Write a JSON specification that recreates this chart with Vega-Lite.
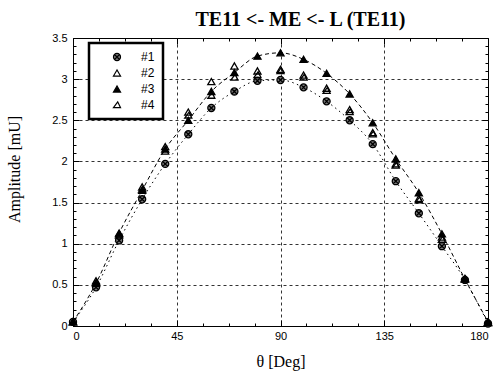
{
  "$schema": "https://vega.github.io/schema/vega-lite/v6.json",
  "autosize": {"type": "none"},
  "width": 415,
  "height": 288,
  "padding": {"left": 73, "top": 38, "right": 8, "bottom": 52},
  "background": "white",
  "title": {"text": "TE11 <- ME <- L (TE11)", "font": "Liberation Serif", "fontSize": 20, "fontWeight": "bold", "color": "black", "dx": 20, "offset": 2},
  "config": {
    "view": {"stroke": "black", "strokeWidth": 1},
    "legend": {
      "orient": "none", "legendX": 16, "legendY": 5, "title": null,
      "padding": 8, "rowPadding": 4, "strokeColor": "black", "strokeWidth": 2.5, "fillColor": "white",
      "labelFont": "Liberation Sans", "labelFontSize": 12, "labelColor": "black",
      "symbolSize": 50, "symbolStrokeColor": "black", "symbolStrokeWidth": 1.2, "symbolOffset": 14, "labelOffset": 18
    }
  },
  "data": {"values": [
    {"theta": 0, "amp": 0.05, "series": "#1"}, {"theta": 10, "amp": 0.47, "series": "#1"}, {"theta": 20, "amp": 1.04, "series": "#1"}, {"theta": 30, "amp": 1.54, "series": "#1"}, {"theta": 40, "amp": 1.97, "series": "#1"}, {"theta": 50, "amp": 2.33, "series": "#1"}, {"theta": 60, "amp": 2.65, "series": "#1"}, {"theta": 70, "amp": 2.85, "series": "#1"}, {"theta": 80, "amp": 2.98, "series": "#1"}, {"theta": 90, "amp": 2.99, "series": "#1"}, {"theta": 100, "amp": 2.9, "series": "#1"}, {"theta": 110, "amp": 2.73, "series": "#1"}, {"theta": 120, "amp": 2.5, "series": "#1"}, {"theta": 130, "amp": 2.21, "series": "#1"}, {"theta": 140, "amp": 1.76, "series": "#1"}, {"theta": 150, "amp": 1.37, "series": "#1"}, {"theta": 160, "amp": 0.97, "series": "#1"}, {"theta": 170, "amp": 0.56, "series": "#1"}, {"theta": 180, "amp": 0.03, "series": "#1"},
    {"theta": 0, "amp": 0.05, "series": "#2"}, {"theta": 10, "amp": 0.55, "series": "#2"}, {"theta": 20, "amp": 1.12, "series": "#2"}, {"theta": 30, "amp": 1.69, "series": "#2"}, {"theta": 40, "amp": 2.18, "series": "#2"}, {"theta": 50, "amp": 2.6, "series": "#2"}, {"theta": 60, "amp": 2.97, "series": "#2"}, {"theta": 70, "amp": 3.16, "series": "#2"}, {"theta": 80, "amp": 3.1, "series": "#2"}, {"theta": 90, "amp": 3.12, "series": "#2"}, {"theta": 100, "amp": 3.05, "series": "#2"}, {"theta": 110, "amp": 2.89, "series": "#2"}, {"theta": 120, "amp": 2.63, "series": "#2"}, {"theta": 130, "amp": 2.35, "series": "#2"}, {"theta": 140, "amp": 1.97, "series": "#2"}, {"theta": 150, "amp": 1.55, "series": "#2"}, {"theta": 160, "amp": 1.08, "series": "#2"}, {"theta": 170, "amp": 0.58, "series": "#2"}, {"theta": 180, "amp": 0.04, "series": "#2"},
    {"theta": 0, "amp": 0.05, "series": "#3"}, {"theta": 10, "amp": 0.52, "series": "#3"}, {"theta": 20, "amp": 1.13, "series": "#3"}, {"theta": 30, "amp": 1.65, "series": "#3"}, {"theta": 40, "amp": 2.15, "series": "#3"}, {"theta": 50, "amp": 2.5, "series": "#3"}, {"theta": 60, "amp": 2.85, "series": "#3"}, {"theta": 70, "amp": 3.08, "series": "#3"}, {"theta": 80, "amp": 3.28, "series": "#3"}, {"theta": 90, "amp": 3.32, "series": "#3"}, {"theta": 100, "amp": 3.24, "series": "#3"}, {"theta": 110, "amp": 3.07, "series": "#3"}, {"theta": 120, "amp": 2.82, "series": "#3"}, {"theta": 130, "amp": 2.47, "series": "#3"}, {"theta": 140, "amp": 2.03, "series": "#3"}, {"theta": 150, "amp": 1.62, "series": "#3"}, {"theta": 160, "amp": 1.12, "series": "#3"}, {"theta": 170, "amp": 0.57, "series": "#3"}, {"theta": 180, "amp": 0.05, "series": "#3"},
    {"theta": 0, "amp": 0.05, "series": "#4"}, {"theta": 10, "amp": 0.53, "series": "#4"}, {"theta": 20, "amp": 1.1, "series": "#4"}, {"theta": 30, "amp": 1.66, "series": "#4"}, {"theta": 40, "amp": 2.12, "series": "#4"}, {"theta": 50, "amp": 2.56, "series": "#4"}, {"theta": 60, "amp": 2.8, "series": "#4"}, {"theta": 70, "amp": 3.02, "series": "#4"}, {"theta": 80, "amp": 3.05, "series": "#4"}, {"theta": 90, "amp": 3.1, "series": "#4"}, {"theta": 100, "amp": 3.02, "series": "#4"}, {"theta": 110, "amp": 2.86, "series": "#4"}, {"theta": 120, "amp": 2.6, "series": "#4"}, {"theta": 130, "amp": 2.33, "series": "#4"}, {"theta": 140, "amp": 1.95, "series": "#4"}, {"theta": 150, "amp": 1.53, "series": "#4"}, {"theta": 160, "amp": 1.05, "series": "#4"}, {"theta": 170, "amp": 0.57, "series": "#4"}, {"theta": 180, "amp": 0.04, "series": "#4"}
  ]},
  "resolve": {"axis": {"x": "independent", "y": "independent"}},
  "layer": [
    {
      "transform": [{"filter": "datum.series == '#1'"}],
      "mark": {"type": "line", "interpolate": "monotone", "color": "black", "strokeWidth": 1, "strokeDash": [1.5, 3.5]},
      "encoding": {
        "x": {"field": "theta", "type": "quantitative", "scale": {"domain": [0, 180], "nice": false},
          "axis": {"orient": "bottom", "values": [0, 11.25, 22.5, 33.75, 45, 56.25, 67.5, 78.75, 90, 101.25, 112.5, 123.75, 135, 146.25, 157.5, 168.75, 180],
            "format": "d", "labelExpr": "datum.value % 45 == 0 ? datum.label : ''",
            "title": "θ  [Deg]", "titleFont": "Liberation Serif", "titleFontSize": 16, "titleFontWeight": "normal", "titleColor": "black", "titlePadding": 12,
            "labelFont": "Liberation Sans", "labelFontSize": 11, "labelColor": "black", "labelPadding": 10,
            "domainColor": "black", "tickColor": "black",
            "tickSize": {"condition": {"test": "datum.value % 45 == 0", "value": -6}, "value": -3},
            "grid": true, "gridColor": "#333", "gridDash": [3, 3],
            "gridOpacity": {"condition": {"test": "datum.value % 45 != 0 || datum.value == 0 || datum.value == 180", "value": 0}, "value": 1}}},
        "y": {"field": "amp", "type": "quantitative", "scale": {"domain": [0, 3.5], "nice": false},
          "axis": {"orient": "left", "values": [0, 0.1, 0.2, 0.3, 0.4, 0.5, 0.6, 0.7, 0.8, 0.9, 1, 1.1, 1.2, 1.3, 1.4, 1.5, 1.6, 1.7, 1.8, 1.9, 2, 2.1, 2.2, 2.3, 2.4, 2.5, 2.6, 2.7, 2.8, 2.9, 3, 3.1, 3.2, 3.3, 3.4, 3.5],
            "format": "~g", "labelExpr": "abs(datum.value*2 - round(datum.value*2)) < 0.001 ? datum.label : ''",
            "title": "Amplitude [mU]", "titleFont": "Liberation Serif", "titleFontSize": 16, "titleFontWeight": "normal", "titleColor": "black", "titleX": -59, "titleY": 131, "titleAlign": "center", "titleBaseline": "middle",
            "labelFont": "Liberation Sans", "labelFontSize": 11, "labelColor": "black", "labelPadding": 12,
            "domainColor": "black", "tickColor": "black",
            "tickSize": {"condition": {"test": "abs(datum.value*2 - round(datum.value*2)) < 0.001", "value": -6}, "value": -3},
            "grid": true, "gridColor": "#333", "gridDash": [3, 3],
            "gridOpacity": {"condition": {"test": "abs(datum.value*2 - round(datum.value*2)) > 0.001 || datum.value == 0 || datum.value > 3.45", "value": 0}, "value": 1}}}
      }
    },
    {
      "transform": [{"filter": "datum.series == '#3'"}],
      "mark": {"type": "line", "interpolate": "monotone", "color": "black", "strokeWidth": 1, "strokeDash": [4, 3]},
      "encoding": {
        "x": {"field": "theta", "type": "quantitative", "axis": null},
        "y": {"field": "amp", "type": "quantitative", "axis": null}
      }
    },
    {
      "mark": {"type": "point", "stroke": "black", "strokeWidth": 1.3, "opacity": 1, "size": 50},
      "encoding": {
        "x": {"field": "theta", "type": "quantitative", "axis": null},
        "y": {"field": "amp", "type": "quantitative", "axis": null},
        "shape": {"field": "series", "type": "nominal", "scale": {"domain": ["#1", "#2", "#3", "#4"], "range": ["M-1,0A1,1,0,1,1,1,0A1,1,0,1,1,-1,0ZM-0.7,-0.7L0.7,0.7M-0.7,0.7L0.7,-0.7", "triangle-up", "triangle-up", "M-1,0.75L1,0.75L0.2,-0.9Z"]}},
        "fill": {"field": "series", "type": "nominal", "scale": {"domain": ["#1", "#2", "#3", "#4"], "range": ["#777777", "transparent", "black", "transparent"]}},
        "stroke": {"field": "series", "type": "nominal", "scale": {"domain": ["#1", "#2", "#3", "#4"], "range": ["black", "black", "black", "black"]}}
      }
    },
    {
      "mark": {"type": "point", "opacity": 0},
      "encoding": {
        "x": {"field": "theta", "type": "quantitative",
          "axis": {"orient": "top", "values": [0, 11.25, 22.5, 33.75, 45, 56.25, 67.5, 78.75, 90, 101.25, 112.5, 123.75, 135, 146.25, 157.5, 168.75, 180],
            "labels": false, "title": null, "grid": false, "domain": false, "tickColor": "black",
            "tickSize": {"condition": {"test": "datum.value % 45 == 0", "value": -6}, "value": -3}}},
        "y": {"field": "amp", "type": "quantitative",
          "axis": {"orient": "right", "values": [0, 0.1, 0.2, 0.3, 0.4, 0.5, 0.6, 0.7, 0.8, 0.9, 1, 1.1, 1.2, 1.3, 1.4, 1.5, 1.6, 1.7, 1.8, 1.9, 2, 2.1, 2.2, 2.3, 2.4, 2.5, 2.6, 2.7, 2.8, 2.9, 3, 3.1, 3.2, 3.3, 3.4, 3.5],
            "labels": false, "title": null, "grid": false, "domain": false, "tickColor": "black",
            "tickSize": {"condition": {"test": "abs(datum.value*2 - round(datum.value*2)) < 0.001", "value": -6}, "value": -3}}}
      }
    }
  ]
}
